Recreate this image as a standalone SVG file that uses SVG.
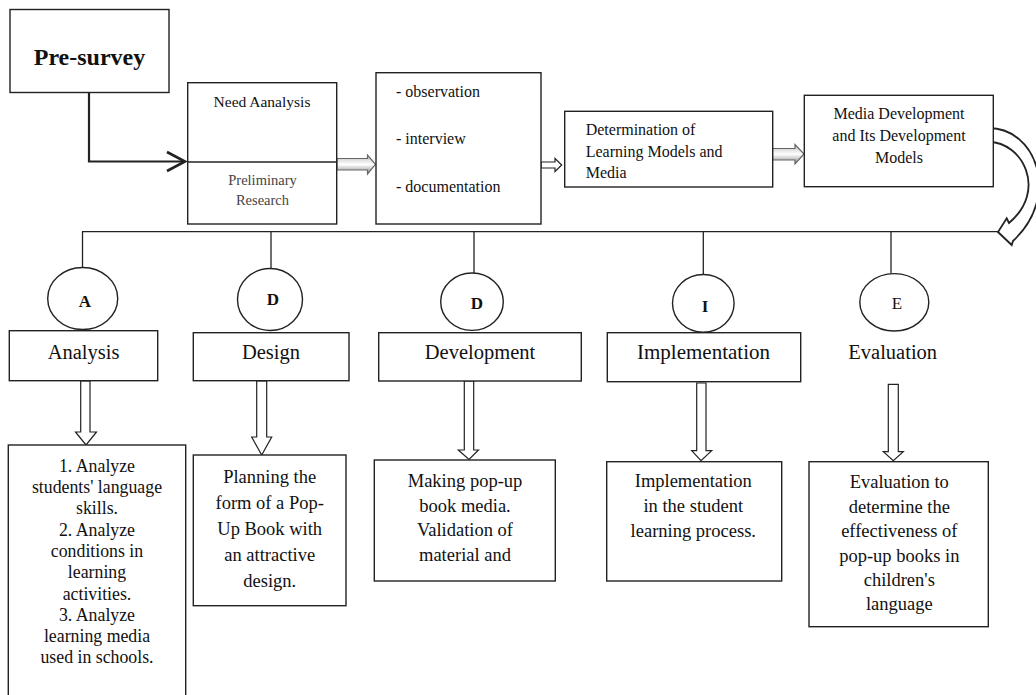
<svg xmlns="http://www.w3.org/2000/svg" width="1036" height="695" viewBox="0 0 1036 695">
<style>
.box{fill:#fff;stroke:#222;stroke-width:1.4}
.ln{fill:none;stroke:#222;stroke-width:1.3}
.t{font-family:"Liberation Serif","Times New Roman",serif;fill:#111}
.c{text-anchor:middle}
.barrow{fill:#fff;stroke:#222;stroke-width:1.2}
.garrow{fill:url(#g);stroke:#666;stroke-width:1.2}
</style>
<defs>
<linearGradient id="g" x1="0" y1="0" x2="0" y2="1">
<stop offset="0" stop-color="#bbb"/>
<stop offset="0.5" stop-color="#fff"/>
<stop offset="1" stop-color="#888"/>
</linearGradient>
</defs>
<rect width="1036" height="695" fill="#fff"/>

<g id="connectors">
<polyline class="ln" points="89,93 89,161.5 183,161.5" style="stroke-width:2.2"/>
<polyline class="ln" points="167,152 185,161.5 167,171" style="stroke-width:2.6"/>
<line class="ln" x1="82" y1="231.7" x2="999" y2="231.7"/>
<line class="ln" x1="82.5" y1="231.7" x2="82.5" y2="267.5"/>
<line class="ln" x1="271" y1="231.7" x2="271" y2="268.5"/>
<line class="ln" x1="474" y1="231.7" x2="474" y2="273"/>
<line class="ln" x1="703.3" y1="231.7" x2="703.3" y2="274.5"/>
<line class="ln" x1="891" y1="231.7" x2="891" y2="273.6"/>
<path class="garrow" d="M337,158.5 H367.5 V155 L375.5,164.3 L367.5,174 V170 H337 Z"/>
<path class="barrow" d="M541,162 H555 V158.5 L561.7,165 L555,171.5 V168 H541 Z"/>
<path class="garrow" d="M772.5,148.5 H795 V144.5 L804,154 L795,164 V160 H772.5 Z"/>
<path class="barrow" d="M989,128 C1035,128 1062,195 1013,241 L1011.7,245 L998,232 L1006.7,218.3 L1009,223 C1048,190 1022,142 989,142 Z" style="stroke-width:1.8"/>
<path class="barrow" d="M80.7,381 V432 H75.5 L86,445 L96.5,432 H90 V381 Z"/>
<path class="barrow" d="M256.7,381 V437 H251.7 L261.7,455 L271.7,437 H266.7 V381 Z"/>
<path class="barrow" d="M464.3,381 V450 H458.3 L469,459.5 L478.5,450 H473.7 V381 Z"/>
<path class="barrow" d="M696.7,383 V450.7 H691.7 L701,460.7 L711.7,450.7 H706 V383 Z"/>
<path class="barrow" d="M888.3,384.3 V451.7 H883.3 L893.3,460.7 L903.3,451.7 H898.3 V384.3 Z"/>
</g>

<g id="pre-survey">
<rect class="box" x="10" y="9.5" width="159" height="83"/>
<text class="t c" x="89.5" y="65" font-size="24" font-weight="bold">Pre-survey</text>
</g>

<g id="need-analysis">
<rect class="box" x="187.7" y="82.7" width="149" height="141.3"/>
<line class="ln" x1="187.7" y1="162" x2="336.7" y2="162"/>
<text class="t c" x="262" y="107" font-size="15.5">Need Aanalysis</text>
<text class="t c" x="262.5" y="185" font-size="14.5" style="fill:#444">Preliminary</text>
<text class="t c" x="262.5" y="205" font-size="14.5" style="fill:#444">Research</text>
</g>

<g id="methods">
<rect class="box" x="376" y="72.7" width="165" height="151.3"/>
<text class="t" x="396" y="96.7" font-size="16">- observation</text>
<text class="t" x="396" y="144" font-size="16">- interview</text>
<text class="t" x="396" y="192" font-size="16">- documentation</text>
</g>

<g id="determination">
<rect class="box" x="564.7" y="111.3" width="208" height="75.7"/>
<text class="t" x="585.7" y="135" font-size="16">Determination of</text>
<text class="t" x="585.7" y="156.7" font-size="16">Learning Models and</text>
<text class="t" x="585.7" y="177.7" font-size="16">Media</text>
</g>

<g id="media-development">
<rect class="box" x="804.3" y="95.3" width="189" height="91.4"/>
<text class="t c" x="899" y="119.3" font-size="16">Media Development</text>
<text class="t c" x="899" y="141" font-size="16">and Its Development</text>
<text class="t c" x="899" y="162.7" font-size="16">Models</text>
</g>

<g id="phase-a">
<ellipse class="box" cx="82.7" cy="298.5" rx="35" ry="31"/>
<text class="t c" x="85" y="306.7" font-size="17" font-weight="bold">A</text>
<rect class="box" x="9.3" y="330.7" width="148.4" height="50"/>
<text class="t c" x="83.5" y="359.3" font-size="20.5">Analysis</text>
</g>

<g id="phase-d1">
<ellipse class="box" cx="270" cy="299.5" rx="32.5" ry="31"/>
<text class="t c" x="273" y="305" font-size="17" font-weight="bold">D</text>
<rect class="box" x="193.3" y="332.7" width="155.7" height="48"/>
<text class="t c" x="271" y="359.3" font-size="20.5">Design</text>
</g>

<g id="phase-d2">
<ellipse class="box" cx="472" cy="301.7" rx="31.3" ry="28.7"/>
<text class="t c" x="477" y="309" font-size="17" font-weight="bold">D</text>
<rect class="box" x="378.7" y="332.7" width="202.6" height="48.3"/>
<text class="t c" x="480" y="359.3" font-size="20.5">Development</text>
</g>

<g id="phase-i">
<ellipse class="box" cx="703.3" cy="303.3" rx="30.8" ry="28.8"/>
<text class="t c" x="705" y="311.7" font-size="17" font-weight="bold">I</text>
<rect class="box" x="607.3" y="332.7" width="193.4" height="49"/>
<text class="t c" x="703.5" y="359.3" font-size="21">Implementation</text>
</g>

<g id="phase-e">
<ellipse class="box" cx="894.3" cy="302.3" rx="34.5" ry="28.7"/>
<text class="t c" x="897" y="309" font-size="17">E</text>
<text class="t c" x="892.7" y="359.3" font-size="20.5">Evaluation</text>
</g>

<g id="detail-analysis">
<rect class="box" x="8.3" y="445" width="177.4" height="252"/>
<g class="t c" font-size="17.8">
<text x="97" y="471.7">1. Analyze</text>
<text x="97" y="493">students' language</text>
<text x="97" y="514.3">skills.</text>
<text x="97" y="535.6">2. Analyze</text>
<text x="97" y="556.9">conditions in</text>
<text x="97" y="578.2">learning</text>
<text x="97" y="599.5">activities.</text>
<text x="97" y="620.8">3. Analyze</text>
<text x="97" y="642.1">learning media</text>
<text x="97" y="663.4">used in schools.</text>
</g>
</g>

<g id="detail-design">
<rect class="box" x="193.3" y="455" width="152.7" height="150.7"/>
<g class="t c" font-size="18.5">
<text x="269.7" y="482.7">Planning the</text>
<text x="269.7" y="508.7">form of a Pop-</text>
<text x="269.7" y="534.7">Up Book with</text>
<text x="269.7" y="560.7">an attractive</text>
<text x="269.7" y="586.7">design.</text>
</g>
</g>

<g id="detail-development">
<rect class="box" x="374.3" y="460" width="181" height="121"/>
<g class="t c" font-size="18.5">
<text x="465" y="486.7">Making pop-up</text>
<text x="465" y="511.5">book media.</text>
<text x="465" y="536.3">Validation of</text>
<text x="465" y="561">material and</text>
</g>
</g>

<g id="detail-implementation">
<rect class="box" x="606.7" y="461.7" width="175" height="119.3"/>
<g class="t c" font-size="18.5">
<text x="693.3" y="486.7">Implementation</text>
<text x="693.3" y="511.5">in the student</text>
<text x="693.3" y="536.5">learning process.</text>
</g>
</g>

<g id="detail-evaluation">
<rect class="box" x="809" y="461.7" width="179.3" height="165"/>
<g class="t c" font-size="18.5">
<text x="899.3" y="488.3">Evaluation to</text>
<text x="899.3" y="512.7">determine the</text>
<text x="899.3" y="537">effectiveness of</text>
<text x="899.3" y="561.5">pop-up books in</text>
<text x="899.3" y="586">children's</text>
<text x="899.3" y="610.3">language</text>
</g>
</g>
</svg>
